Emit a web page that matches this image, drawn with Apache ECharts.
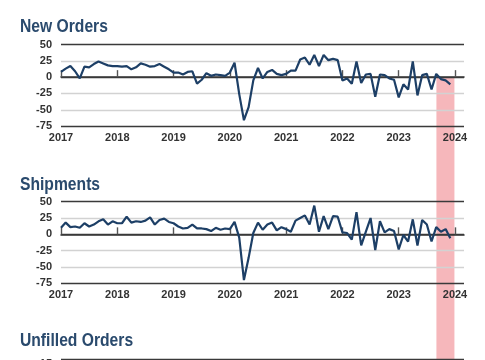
<!DOCTYPE html>
<html><head><meta charset="utf-8">
<script src="https://cdn.jsdelivr.net/npm/echarts@6/dist/echarts.min.js"></script>
<style>html,body{margin:0;padding:0;background:#fff}#c{width:485px;height:360px}</style>
</head><body><div id="c"></div>
<script>
const titles = ['New Orders', 'Shipments', 'Unfilled Orders'];
const startYear = 2017;
const yearTicks = [2017, 2018, 2019, 2020, 2021, 2022, 2023, 2024];
// monthly diffusion values, Jan 2017 .. Dec 2023
const newOrders = [
  8, 13, 17, 9, -2, 16, 15, 20, 24, 21, 18, 17,
  17, 16, 17, 12, 15, 21, 19, 16, 17, 20, 16, 12,
  7, 7, 4, 8, 9, -10, -4, 6, 2, 4, 3, 2,
  7, 22, -26, -66, -46, -5, 14, -2, 8, 11, 5, 3,
  5, 10, 10, 27, 30, 19, 34, 17, 34, 26, 28, 26,
  -5, -2, -10, 24, -9, 4, 5, -30, 4, 3, -2, -4,
  -31, -11, -19, 24, -28, 3, 5, -19, 5, -3, -5, -11
];
const shipments = [
  10, 18, 11, 12, 10, 17, 12, 15, 20, 23, 15, 20,
  17, 17, 27, 18, 20, 19, 21, 26, 15, 22, 24, 19,
  17, 12, 9, 10, 15, 9, 9, 8, 5, 10, 7, 9,
  8, 19, -5, -70, -36, 2, 18, 7, 15, 18, 6, 11,
  8, 4, 21, 25, 29, 15, 44, 4, 28, 8, 28, 27,
  3, 2, -8, 34, -17, 4, 25, -24, 20, 3, 8, 5,
  -23, -1, -11, 23, -17, 22, 15, -11, 11, 4, 8, -6
];
const bandStart = 2023.67;
const bandEnd = 2023.99;

const navy = '#1d3f66';
const dark = '#3a3a3a';
const light = '#d2d2d2';
const gridTops = [44.5, 201.7, 359.3];
const gridH = 81.6;
const titleTops = [18.5, 176, 332.5];

function toXY(arr) { return arr.map((v, i) => [startYear + i / 12, v]); }

const chart = echarts.init(document.getElementById('c'), null, {renderer: 'canvas'});

const grids = gridTops.map(t => ({left: 61, right: 21, top: t, height: gridH}));
const xAxes = gridTops.map((t, gi) => ({
  type: 'value', gridIndex: gi, min: 2017, max: 2024.16,
  axisLine: {show: true, lineStyle: {color: dark, width: 1.6}},
  axisTick: {show: true, inside: true, length: 7, customValues: yearTicks, lineStyle: {color: '#555', width: 1.4}},
  axisLabel: {customValues: yearTicks, formatter: v => String(Math.round(v)), color: '#333', fontWeight: 'bold', fontSize: 11, margin: 6, fontFamily: 'Liberation Sans, Arial, sans-serif'},
  splitLine: {show: false}
}));
const yLabel = {color: '#333', fontWeight: 'bold', fontSize: 11, margin: 9, fontFamily: 'Liberation Sans, Arial, sans-serif'};
const yAxes = [0, 1].map(gi => ({
  type: 'value', gridIndex: gi, min: -75, max: 50, interval: 25,
  axisLine: {show: false}, axisTick: {show: false},
  axisLabel: yLabel,
  splitLine: {show: true, lineStyle: {color: [dark, light, light, dark, light, dark], width: 1.3}}
}));
yAxes.push({
  type: 'value', gridIndex: 2, min: -30, max: 30, interval: 15,
  axisLine: {show: false}, axisTick: {show: false},
  axisLabel: yLabel,
  splitLine: {show: true, lineStyle: {color: [dark, light, dark, light, dark], width: 1.3}}
});

chart.setOption({
  animation: false,
  backgroundColor: '#fff',
  grid: grids,
  xAxis: xAxes,
  yAxis: yAxes,
  series: [
    {type: 'line', xAxisIndex: 0, yAxisIndex: 0, data: toXY(newOrders), showSymbol: false, z: 5,
     lineStyle: {color: navy, width: 2.2}},
    {type: 'line', xAxisIndex: 1, yAxisIndex: 1, data: toXY(shipments), showSymbol: false, z: 5,
     lineStyle: {color: navy, width: 2.2}}
  ]
});

const p0 = chart.convertToPixel({gridIndex: 0}, [bandStart, 0]);
const p1 = chart.convertToPixel({gridIndex: 0}, [bandEnd, 0]);
const graphics = [{
  type: 'rect', z: -1, silent: true,
  shape: {x: p0[0], y: p0[1], width: p1[0] - p0[0], height: 360 - p0[1]},
  style: {fill: '#f6b7bb'}
}];
titles.forEach((t, i) => {
  graphics.push({
    type: 'text', x: 20, y: titleTops[i], scaleX: 0.87, silent: true,
    style: {text: t, fill: '#2a4a6d', font: 'bold 18px "Liberation Sans", Arial, sans-serif', verticalAlign: 'top', align: 'left'}
  });
});
chart.setOption({graphic: graphics});
</script>
</body></html>
